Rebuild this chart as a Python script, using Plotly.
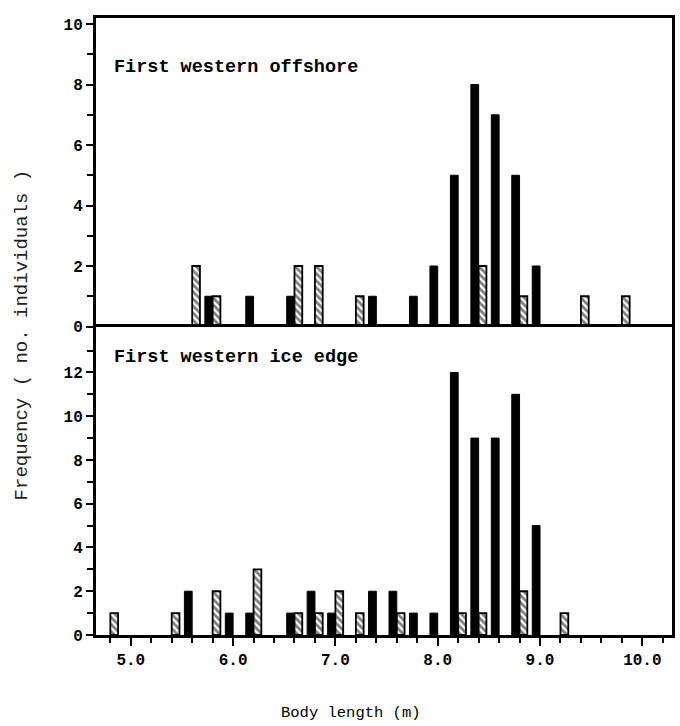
import plotly.graph_objects as go

# Bin centres (m) and frequencies
top_black_x = [5.8, 6.2, 6.6, 7.4, 7.8, 8.0, 8.2, 8.4, 8.6, 8.8, 9.0]
top_black_y = [1, 1, 1, 1, 1, 2, 5, 8, 7, 5, 2]
top_hatch_x = [5.6, 5.8, 6.6, 6.8, 7.2, 8.4, 8.8, 9.4, 9.8]
top_hatch_y = [2, 1, 2, 2, 1, 2, 1, 1, 1]

bot_black_x = [5.6, 6.0, 6.2, 6.6, 6.8, 7.0, 7.4, 7.6, 7.8, 8.0, 8.2, 8.4, 8.6, 8.8, 9.0]
bot_black_y = [2, 1, 1, 1, 2, 1, 2, 2, 1, 1, 12, 9, 9, 11, 5]
bot_hatch_x = [4.8, 5.4, 5.8, 6.2, 6.6, 6.8, 7.0, 7.2, 7.6, 8.2, 8.4, 8.8, 9.2]
bot_hatch_y = [1, 1, 2, 3, 1, 1, 2, 1, 1, 1, 1, 2, 1]

panel_titles = ["First western offshore", "First western ice edge"]
x_title = "Body length (m)"
y_title = "Frequency ( no. individuals )"

BW = 0.076
MONO = "Liberation Mono"

def black_bar(x, y, xa, ya):
    return go.Bar(x=x, y=y, xaxis=xa, yaxis=ya, width=BW, offset=-BW,
                  marker=dict(color="black", line=dict(color="black", width=1)),
                  showlegend=False)

def hatch_bar(x, y, xa, ya):
    return go.Bar(x=x, y=y, xaxis=xa, yaxis=ya, width=BW, offset=0,
                  marker=dict(color="white",
                              line=dict(color="black", width=1.8),
                              pattern=dict(shape="\\", fgcolor="black", bgcolor="white",
                                           size=5, solidity=0.55)),
                  showlegend=False)

fig = go.Figure()
fig.add_trace(black_bar(top_black_x, top_black_y, "x", "y"))
fig.add_trace(hatch_bar(top_hatch_x, top_hatch_y, "x", "y"))
fig.add_trace(black_bar(bot_black_x, bot_black_y, "x2", "y2"))
fig.add_trace(hatch_bar(bot_hatch_x, bot_hatch_y, "x2", "y2"))

xr = [4.66, 10.29]
tickfont = dict(family=MONO, size=16, color="black", weight="bold")

fig.update_layout(
    width=680, height=726,
    margin=dict(l=96, r=5, t=18, b=91),
    paper_bgcolor="white", plot_bgcolor="white",
    barmode="overlay",
    xaxis=dict(domain=[0, 1], range=xr, anchor="y", side="top",
               showticklabels=False, ticks="",
               showline=True, linewidth=3, linecolor="black", mirror=False,
               showgrid=False, zeroline=False),
    yaxis=dict(domain=[0.5, 1], range=[0, 10.2], anchor="x",
               tickmode="array", tickvals=list(range(0, 11, 2)),
               ticktext=[str(v) for v in range(0, 11, 2)],
               ticks="outside", ticklen=7, tickwidth=2, tickcolor="black",
               minor=dict(tickmode="array", tickvals=list(range(1, 11, 2)),
                          ticks="outside", ticklen=6, tickwidth=2, tickcolor="black"),
               tickfont=tickfont,
               showline=True, linewidth=3, linecolor="black", mirror=True,
               showgrid=False, zeroline=False),
    xaxis2=dict(domain=[0, 1], range=xr, anchor="y2",
                tickmode="array", tickvals=[5, 6, 7, 8, 9, 10],
                ticktext=["5.0", "6.0", "7.0", "8.0", "9.0", "10.0"],
                ticks="outside", ticklen=8, tickwidth=2, tickcolor="black",
                minor=dict(tickmode="array",
                           tickvals=[round(4.8 + 0.2 * i, 1) for i in range(28)],
                           ticks="outside", ticklen=5, tickwidth=2, tickcolor="black"),
                tickfont=tickfont,
                showline=True, linewidth=3, linecolor="black", mirror=True,
                showgrid=False, zeroline=False),
    yaxis2=dict(domain=[0, 0.5], range=[0, 14.1], anchor="x2",
                tickmode="array", tickvals=list(range(0, 13, 2)),
                ticktext=[str(v) for v in range(0, 13, 2)],
                ticks="outside", ticklen=7, tickwidth=2, tickcolor="black",
                minor=dict(tickmode="array", tickvals=list(range(1, 14, 2)),
                           ticks="outside", ticklen=6, tickwidth=2, tickcolor="black"),
                tickfont=tickfont,
                showline=True, linewidth=3, linecolor="black", mirror=True,
                showgrid=False, zeroline=False),
)

fig.add_annotation(text=panel_titles[0], xref="x", yref="y", x=4.815, y=8.55,
                   xanchor="left", yanchor="middle", showarrow=False,
                   font=dict(family=MONO, size=18.5, color="black", weight="bold"))
fig.add_annotation(text=panel_titles[1], xref="x2", yref="y2", x=4.815, y=12.7,
                   xanchor="left", yanchor="middle", showarrow=False,
                   font=dict(family=MONO, size=18.5, color="black", weight="bold"))
fig.add_annotation(text=x_title, xref="paper", yref="paper",
                   x=(352 - 96) / 579, y=-(713 - 635) / 617,
                   xanchor="center", yanchor="middle", showarrow=False,
                   font=dict(family=MONO, size=15.5, color="black"))
fig.add_annotation(text=y_title, xref="paper", yref="paper",
                   x=(22 - 96) / 579, y=(635 - 335) / 617, textangle=-90,
                   xanchor="center", yanchor="middle", showarrow=False,
                   font=dict(family=MONO, size=19, color="#222222"))

fig.write_html("out.html")
